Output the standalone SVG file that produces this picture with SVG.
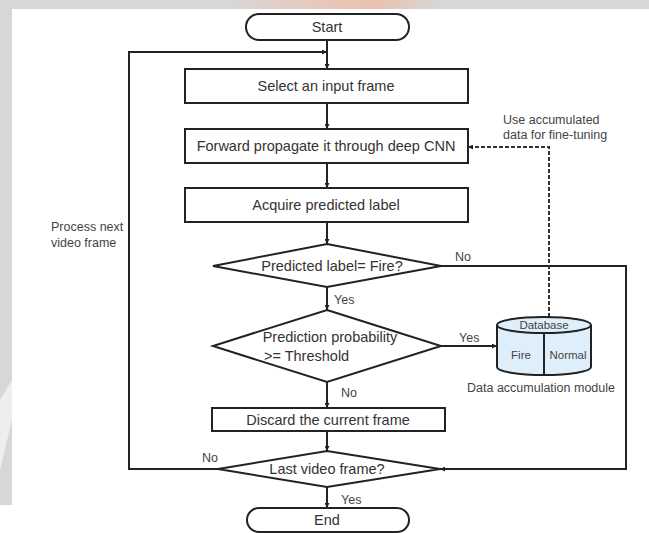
<svg xmlns="http://www.w3.org/2000/svg" width="649" height="533" viewBox="0 0 649 533">
<defs>
<style>
.ln{fill:none;stroke:#222;stroke-width:2}
.dash{fill:none;stroke:#333;stroke-width:2;stroke-dasharray:4 2}
.box{fill:#fff;stroke:#222;stroke-width:2}
.db{fill:#deeefa;stroke:#222;stroke-width:2}
.t{font-family:"Liberation Sans",Arial,sans-serif;font-size:14.5px;fill:#333;text-anchor:middle}
.s{font-family:"Liberation Sans",Arial,sans-serif;font-size:12.5px;fill:#444}
.xs{font-family:"Liberation Sans",Arial,sans-serif;font-size:11.5px;fill:#444}
</style>
<marker id="ah" viewBox="0 0 10 10" refX="10" refY="5" markerWidth="5" markerHeight="5" orient="auto" markerUnits="userSpaceOnUse">
<path d="M0,0 L10,5 L0,10 z" fill="#222"/>
</marker>
<linearGradient id="wm" x1="0" y1="0" x2="1" y2="0">
<stop offset="0" stop-color="#d7d7d7"/>
<stop offset="0.4" stop-color="#e7c9bd"/>
<stop offset="0.7" stop-color="#eac2ad"/>
<stop offset="1" stop-color="#d7d7d7"/>
</linearGradient>
</defs>
<rect x="0" y="0" width="649" height="533" fill="#fff"/>
<rect x="0" y="0" width="649" height="9" fill="#d7d7d7"/>
<rect x="230" y="0" width="210" height="9" fill="url(#wm)"/>
<rect x="0" y="0" width="12" height="505" fill="#d7d7d7"/>
<polygon points="0,400 12,380 12,420 0,470" fill="#eeeeee"/>

<g id="connectors">
<line class="ln" x1="327" y1="40" x2="327" y2="69" marker-end="url(#ah)"/>
<polyline class="ln" points="218,469 129,469 129,52 327,52" marker-end="url(#ah)"/>
<line class="ln" x1="327" y1="103" x2="327" y2="129" marker-end="url(#ah)"/>
<line class="ln" x1="327" y1="163" x2="327" y2="188" marker-end="url(#ah)"/>
<line class="ln" x1="327" y1="222" x2="327" y2="244" marker-end="url(#ah)"/>
<line class="ln" x1="327" y1="287" x2="327" y2="310" marker-end="url(#ah)"/>
<line class="ln" x1="327" y1="382" x2="327" y2="408" marker-end="url(#ah)"/>
<line class="ln" x1="327" y1="431" x2="327" y2="451" marker-end="url(#ah)"/>
<line class="ln" x1="327" y1="487" x2="327" y2="508" marker-end="url(#ah)"/>
<polyline class="ln" points="441,266 626,266 626,469 440,469" marker-end="url(#ah)"/>
<line class="ln" x1="441" y1="346" x2="497" y2="346" marker-end="url(#ah)"/>
<polyline class="dash" points="549,317 549,147 468,147" marker-end="url(#ah)"/>
<text class="s" x="334" y="304">Yes</text>
<text class="s" x="455" y="261">No</text>
<text class="s" x="459" y="342">Yes</text>
<text class="s" x="341" y="397">No</text>
<text class="s" x="202" y="462">No</text>
<text class="s" x="341" y="504">Yes</text>
</g>

<g id="start">
<rect class="box" x="246" y="14" width="163" height="26" rx="13"/>
<text class="t" x="327" y="32">Start</text>
</g>
<g id="select">
<rect class="box" x="185" y="69" width="283" height="34"/>
<text class="t" x="326" y="91">Select an input frame</text>
</g>
<g id="forward">
<rect class="box" x="185" y="129" width="283" height="34"/>
<text class="t" x="326" y="151">Forward propagate it through deep CNN</text>
</g>
<g id="acquire">
<rect class="box" x="185" y="188" width="283" height="34"/>
<text class="t" x="326" y="210">Acquire predicted label</text>
</g>
<g id="decision-fire">
<polygon class="box" points="327,244 441,266 327,287 213,266"/>
<text class="t" x="332" y="271">Predicted label= Fire?</text>
</g>
<g id="decision-threshold">
<polygon class="box" points="327,310 441,346 327,382 213,346"/>
<text class="t" x="330" y="342">Prediction probability</text>
<text class="t" x="264" y="361" style="text-anchor:start">&gt;= Threshold</text>
</g>
<g id="discard">
<rect class="box" x="212" y="408" width="233" height="23"/>
<text class="t" x="328" y="425">Discard the current frame</text>
</g>
<g id="decision-last">
<polygon class="box" points="327,451 440,469 327,487 218,469"/>
<text class="t" x="327" y="474">Last video frame?</text>
</g>
<g id="end">
<rect class="box" x="247" y="508" width="162" height="24" rx="12"/>
<text class="t" x="327" y="525">End</text>
</g>
<g id="database">
<path class="db" d="M497,325 L497,367 A47,8 0 0 0 591,367 L591,325"/>
<ellipse class="db" cx="544" cy="325" rx="47" ry="8"/>
<line class="ln" x1="544" y1="333" x2="544" y2="375"/>
<text class="xs" x="544" y="329" text-anchor="middle">Database</text>
<text class="xs" x="521" y="359" text-anchor="middle">Fire</text>
<text class="xs" x="568" y="359" text-anchor="middle">Normal</text>
<text class="s" x="541" y="392" text-anchor="middle">Data accumulation module</text>
</g>
<g id="annotations">
<text class="s" x="503" y="124">Use accumulated</text>
<text class="s" x="503" y="139">data for fine-tuning</text>
<text class="s" x="51" y="231">Process next</text>
<text class="s" x="51" y="247">video frame</text>
</g>
</svg>
